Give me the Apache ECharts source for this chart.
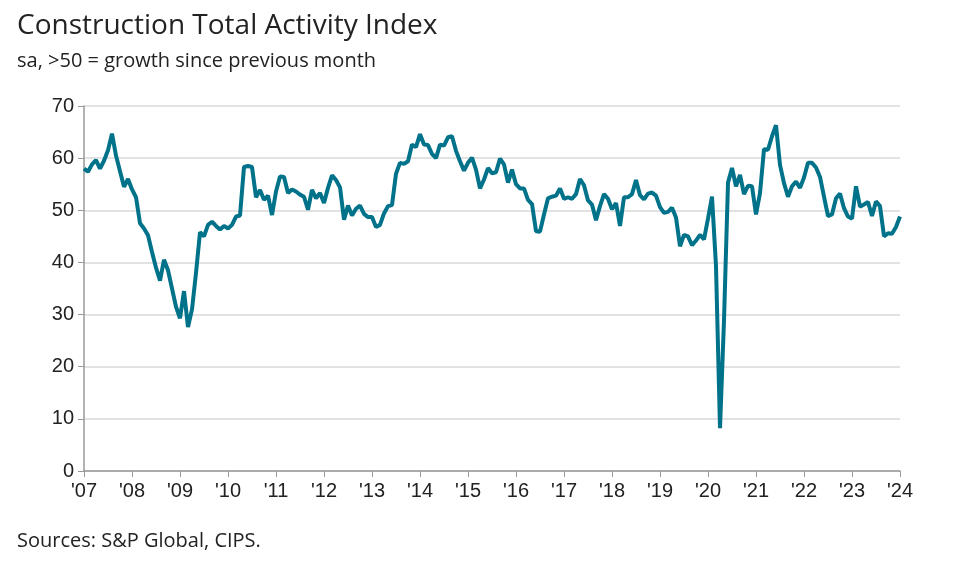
<!DOCTYPE html>
<html><head><meta charset="utf-8">
<script src="https://cdn.jsdelivr.net/npm/echarts@6/dist/echarts.min.js"></script>
<style>body{margin:0;background:#fff}#c{width:959px;height:561px}</style>
</head><body><div id="c"></div>
<script>
const title = "Construction Total Activity Index";
const subtitle = "sa, >50 = growth since previous month";
const source = "Sources: S&P Global, CIPS.";
const yearLabels = ["'07","'08","'09","'10","'11","'12","'13","'14","'15","'16","'17","'18","'19","'20","'21","'22","'23","'24"];
const v2007 = [58.0,57.4,58.8,59.6,58.0,59.5,61.5,64.7,60.5,57.5,54.5,56.0];
const v2008 = [54.0,52.5,47.5,46.5,45.2,42.0,39.0,36.5,40.5,38.5,35.0,31.5];
const v2009 = [29.3,34.5,27.6,31.0,38.0,45.8,45.0,47.2,47.8,47.0,46.3,47.0];
const v2010 = [46.5,47.2,48.8,49.0,58.3,58.5,58.3,52.5,53.9,52.0,52.8,49.1];
const v2011 = [53.6,56.5,56.4,53.3,54.0,53.6,53.0,52.6,50.1,53.9,52.3,53.3];
const v2012 = [51.4,54.3,56.7,55.8,54.4,48.2,50.9,49.0,50.3,50.9,49.3,48.7];
const v2013 = [48.7,46.8,47.2,49.4,50.8,51.0,57.0,59.1,58.9,59.4,62.6,62.1];
const v2014 = [64.6,62.6,62.5,60.8,60.0,62.6,62.4,64.0,64.2,61.4,59.4,57.6];
const v2015 = [59.1,60.1,57.8,54.2,55.9,58.1,57.1,57.3,59.9,58.8,55.3,57.8];
const v2016 = [55.0,54.2,54.2,52.0,51.2,46.0,45.9,49.2,52.3,52.6,52.8,54.2];
const v2017 = [52.2,52.5,52.2,53.1,56.0,54.8,51.9,51.1,48.1,50.8,53.1,52.2];
const v2018 = [50.2,51.4,47.0,52.5,52.5,53.1,55.8,52.9,52.1,53.2,53.4,52.8];
const v2019 = [50.6,49.5,49.7,50.5,48.6,43.1,45.3,45.0,43.3,44.2,45.3,44.4];
const v2020 = [48.4,52.6,39.3,8.2,28.9,55.3,58.1,54.6,56.8,53.1,54.7,54.6];
const v2021 = [49.2,53.3,61.7,61.6,64.2,66.3,58.7,55.2,52.6,54.6,55.5,54.3];
const v2022 = [56.3,59.1,59.1,58.2,56.4,52.6,48.9,49.2,52.3,53.2,50.4,48.8];
const v2023 = [48.4,54.6,50.7,51.1,51.6,48.9,51.7,50.8,45.0,45.6,45.5,46.8];
const v2024 = [48.8];
const values = [].concat(v2007,v2008,v2009,v2010,v2011,v2012,v2013,v2014,v2015,v2016,v2017,v2018,v2019,v2020,v2021,v2022,v2023,v2024);
const data = values.map((v,i)=>[i,v]);
const chart = echarts.init(document.getElementById('c'));
chart.setOption({
  animation:false,
  title:[
    {text:title,left:12,top:7,textStyle:{fontFamily:'Open Sans',fontSize:28,fontWeight:'normal',color:'#222'}},
    {text:subtitle,left:12,top:46,textStyle:{fontFamily:'Open Sans',fontSize:20,fontWeight:'normal',color:'#222'}},
    {text:source,left:12,top:526,textStyle:{fontFamily:'Open Sans',fontSize:20,fontWeight:'normal',color:'#222'}}
  ],
  grid:{left:84,right:59,top:106,bottom:90},
  xAxis:{type:'value',min:0,max:204,interval:12,
    axisLine:{lineStyle:{color:'#999',width:1.5}},
    axisTick:{show:true,length:6,lineStyle:{color:'#999'}},
    splitLine:{show:false},
    axisLabel:{fontFamily:'Arial',fontSize:20,color:'#222',margin:10,formatter:v=>yearLabels[v/12]}},
  yAxis:{type:'value',min:0,max:70,interval:10,
    axisLine:{show:true,lineStyle:{color:'#999',width:1.5}},
    axisTick:{show:true,length:6,lineStyle:{color:'#999'}},
    splitLine:{lineStyle:{color:'#d9d9d9',width:1.5}},
    axisLabel:{fontFamily:'Arial',fontSize:20,color:'#222',margin:10}},
  series:[{type:'line',data:data,showSymbol:false,lineStyle:{color:'#00728a',width:4},z:3}]
});
</script></body></html>
